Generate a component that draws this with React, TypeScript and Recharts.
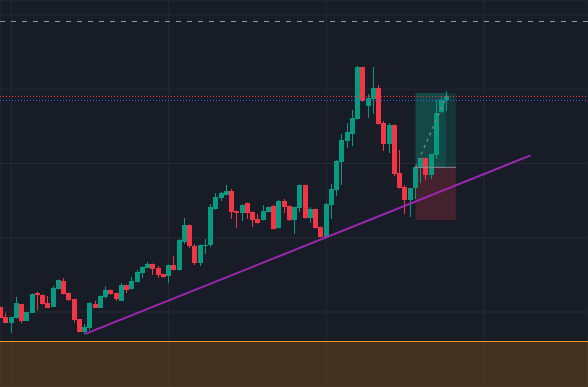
import {
  ComposedChart, Bar, XAxis, YAxis, CartesianGrid,
  ReferenceLine, ReferenceArea,
} from 'recharts'

// bar index of the first candle (the first two sit left of the first grid line)
const FIRST_BAR = -2

const opens = [
  101.43, 98.73, 97.12, 98.46, 102.15, 97.66, 99.81, 105.04, 104.58, 102.51,
  101.43, 106.2, 108.35, 105.12, 103.5, 98.03, 94.61, 95.69, 102.15, 101.16,
  104.12, 105.93, 105.12, 103.1, 107.27, 106.2, 108.08, 110.51, 111.85, 112.93,
  111.85, 110.24, 109.7, 112.66, 111.31, 118.86, 123.43, 117.78, 113.2, 117.78,
  118.05, 127.74, 130.71, 131.52, 132.59, 127.21, 126.67, 129.36, 126.94, 125.05,
  124.78, 126.94, 128.55, 122.63, 129.9, 128.55, 124.78, 128.01, 134.21, 125.32,
  127.74, 122.9, 120.2, 128.82, 132.86, 140.4, 146.06, 147.95, 151.99, 165.99,
  155.49, 157.37, 160.34, 150.91, 145.25, 150.37, 137.44, 133.67, 130.17, 133.4,
  138.79, 141.48, 136.9, 142.29, 153.87, 157.1,
]
const highs = [
  101.43, 99.81, 98.57, 104.12, 102.15, 99.92, 104.98, 105.47, 104.71, 104.31,
  107.0, 108.75, 109.16, 105.25, 103.64, 98.11, 96.77, 102.61, 103.04, 104.5,
  106.92, 106.06, 105.25, 107.81, 107.41, 109.43, 111.31, 112.26, 113.47, 113.06,
  112.39, 110.37, 112.79, 115.08, 119.66, 125.32, 123.57, 118.32, 118.18, 119.66,
  129.09, 132.05, 132.32, 134.21, 133.13, 127.34, 129.09, 129.5, 127.07, 126.4,
  128.82, 128.42, 128.82, 130.17, 130.44, 128.69, 128.42, 134.34, 134.34, 128.28,
  127.88, 123.03, 129.36, 134.48, 140.94, 147.95, 150.91, 154.41, 166.26, 166.12,
  158.72, 165.99, 161.14, 151.45, 150.91, 150.5, 143.64, 134.21, 133.54, 139.19,
  141.62, 141.62, 142.69, 157.1, 158.18, 159.53,
]
const lows = [
  98.46, 97.12, 94.42, 98.2, 96.96, 97.66, 99.73, 100.35, 102.02, 101.08,
  101.35, 106.06, 104.71, 102.96, 97.12, 94.48, 94.07, 95.15, 101.08, 101.08,
  103.64, 104.71, 103.04, 102.96, 105.12, 106.06, 107.95, 109.16, 111.72, 109.97,
  109.16, 109.29, 107.81, 111.18, 111.18, 118.32, 117.24, 112.66, 112.39, 115.62,
  117.51, 127.61, 129.9, 131.38, 125.05, 122.63, 124.51, 125.05, 122.9, 123.84,
  124.65, 126.8, 122.22, 122.49, 126.67, 124.51, 121.01, 126.94, 125.19, 123.97,
  122.49, 120.07, 120.07, 125.05, 131.25, 134.21, 144.18, 144.71, 151.85, 156.57,
  152.26, 153.33, 150.5, 143.37, 142.83, 136.63, 133.26, 126.4, 125.59, 130.44,
  134.75, 135.56, 135.82, 141.21, 153.6, 154.14,
]
const closes = [
  98.46, 97.12, 98.57, 102.51, 97.66, 99.92, 104.85, 104.66, 102.15, 101.16,
  106.46, 108.62, 104.85, 103.23, 97.85, 94.61, 95.96, 102.51, 101.16, 104.39,
  105.93, 104.85, 103.5, 107.27, 105.93, 108.35, 110.77, 112.12, 112.93, 111.58,
  109.97, 109.43, 112.66, 111.31, 119.39, 123.43, 117.78, 113.2, 118.05, 118.05,
  128.28, 130.98, 132.05, 132.59, 126.94, 126.67, 128.82, 126.67, 124.78, 123.97,
  127.21, 128.28, 122.36, 129.9, 128.28, 124.78, 128.28, 134.21, 125.32, 127.74,
  122.63, 120.2, 129.09, 133.13, 140.67, 146.33, 148.48, 152.26, 165.99, 156.83,
  157.64, 160.34, 150.64, 145.25, 150.37, 137.17, 133.4, 130.17, 133.4, 139.06,
  141.48, 136.9, 142.56, 153.6, 157.1, 158.18,
]

const xGridTicks = [0, 30, 60, 90]
const yGridTicks = [100, 120, 140, 160, 180]

const upperLevel = 178.26
const targetLevel = 158.05
const lastPriceLevel = 156.98
const zoneTop = 92.06

// long position tool
const posStart = 77
const posFill = 82.8
const posEnd = 84.7
const posTarget = 158.99
const posEntry = 138.98
const posStop = 124.78
const posPath = [{ x: 77, y: 138.98 }, { x: 83, y: 158.4 }]

const trendLine = [{ x: 14.1, y: 94.1 }, { x: 98.9, y: 142.2 }]

const UP = '#089981'
const DOWN = '#f23645'
const BG = '#181c27'

const candles = opens.map((open, k) => ({
  i: FIRST_BAR + k,
  open,
  high: highs[k],
  low: lows[k],
  close: closes[k],
  range: [lows[k], highs[k]],
}))

function Candle(props: any) {
  const { x, y, width, height, payload } = props
  const { open, close, high, low } = payload
  const color = close >= open ? UP : DOWN
  const k = height / (high - low || 1)
  const left = Math.round(x + width / 2 - 2.5)
  const top = Math.round(y + (high - Math.max(open, close)) * k)
  const bot = Math.round(y + (high - Math.min(open, close)) * k)
  return (
    <g>
      <line x1={left + 2.5} x2={left + 2.5} y1={y} y2={y + height} stroke={color} strokeWidth={1} />
      <rect x={left} y={top} width={5} height={Math.max(bot - top, 1)} fill={color} />
    </g>
  )
}

export default function App() {
  return (
    <div style={{ position: 'absolute', left: 0, top: 0, width: 588, height: 387, background: BG }}>
      <ComposedChart width={588} height={387} data={candles} margin={{ top: 0, right: 0, bottom: 0, left: 0 }}>
        <CartesianGrid stroke="#262a35" />
        <XAxis dataKey="i" type="number" domain={[-2.15, 109.85]} ticks={xGridTicks} allowDataOverflow hide />
        <YAxis type="number" domain={[79.8, 184.05]} ticks={yGridTicks} allowDataOverflow hide />

        <ReferenceArea y1={79.8} y2={zoneTop} fill="#a26a10" fillOpacity={0.3} stroke="none" />
        <ReferenceLine y={zoneTop} stroke="#f5961f" strokeWidth={1} />

        <ReferenceArea x1={posStart} x2={posEnd} y1={posEntry} y2={posTarget} fill={UP} fillOpacity={0.2} stroke="none" />
        <ReferenceArea x1={posStart} x2={posFill} y1={posEntry} y2={posTarget} fill={UP} fillOpacity={0.2} stroke="none" />
        <ReferenceArea x1={posStart} x2={posEnd} y1={posStop} y2={posEntry} fill={DOWN} fillOpacity={0.2} stroke="none" />

        <Bar dataKey="range" barSize={5} shape={Candle} isAnimationActive={false} />

        <ReferenceLine segment={[{ x: posStart, y: posEntry }, { x: posEnd, y: posEntry }]} stroke="#8a8d96" strokeWidth={1} />
        <ReferenceLine segment={posPath} stroke="#787b86" strokeWidth={1.5} strokeDasharray="3 4" />

        <ReferenceLine y={upperLevel} stroke="#9598a1" strokeWidth={1} strokeDasharray="5 6" />
        <ReferenceLine y={targetLevel} stroke={DOWN} strokeWidth={1} strokeDasharray="1 2" />
        <ReferenceLine y={lastPriceLevel} stroke="#2962ff" strokeWidth={1} strokeDasharray="1 2" />

        <ReferenceLine segment={trendLine} stroke="#9c27b0" strokeWidth={2} />
      </ComposedChart>
    </div>
  )
}
